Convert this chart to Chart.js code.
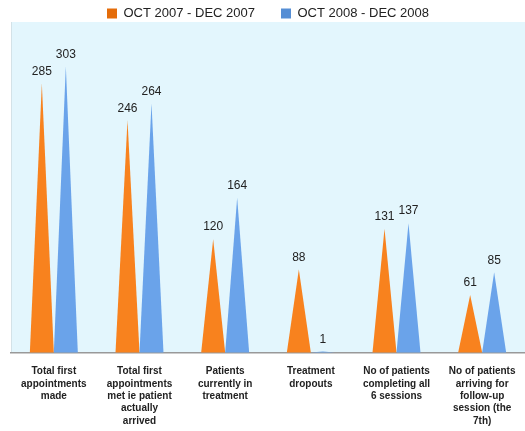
<!DOCTYPE html>
<html>
<head>
<meta charset="utf-8">
<script src="https://cdn.jsdelivr.net/npm/chart.js@4"></script>
<style>
html,body{margin:0;padding:0;background:#fff;}
#wrap{width:525px;height:431px;position:relative;}
</style>
</head>
<body>
<div id="wrap"><canvas id="chart"></canvas></div>
<script>
const categories = [
["Total first","appointments","made"],
["Total first","appointments","met ie patient","actually","arrived"],
["Patients","currently in","treatment"],
["Treatment","dropouts"],
["No of patients","completing all","6 sessions"],
["No of patients","arriving for","follow-up","session (the","7th)"]
];

const period2007 = [285, 246, 120, 88, 131, 61];
const period2008 = [303, 264, 164, 1, 137, 85];

const seriesNames = ["OCT 2007 - DEC 2007", "OCT 2008 - DEC 2008"];
const barColors = ["#F8821E", "#6AA3EA"];
const legendColors = ["#E46C0A", "#558ED5"];

// plot background + triangle bars + value labels
const conePlugin = {
id:"cones",
beforeDraw(chart){
const a = chart.chartArea;
const ctx = chart.ctx;
ctx.save();
ctx.fillStyle = "#E3F6FD";
ctx.fillRect(a.left, a.top, a.right - a.left, a.bottom - a.top);
ctx.strokeStyle = "#D3E2E8";
ctx.lineWidth = 1;
ctx.beginPath();
ctx.moveTo(a.left + 0.5, a.top);
ctx.lineTo(a.left + 0.5, a.bottom);
ctx.stroke();
ctx.restore();
},
beforeDatasetsDraw(chart){
const ctx = chart.ctx;
ctx.save();
chart.data.datasets.forEach((ds, i) => {
const meta = chart.getDatasetMeta(i);
meta.data.forEach((bar, j) => {
const p = bar.getProps(["x","y","base","width"], true);
const half = p.width / 2;
ctx.fillStyle = barColors[i];
ctx.beginPath();
ctx.moveTo(p.x - half, p.base);
ctx.lineTo(p.x, p.y);
ctx.lineTo(p.x + half, p.base);
ctx.closePath();
ctx.fill();
});
});
ctx.fillStyle = "#222";
ctx.font = "12px 'Liberation Sans', Arial, sans-serif";
ctx.textAlign = "center";
ctx.textBaseline = "bottom";
chart.data.datasets.forEach((ds, i) => {
const meta = chart.getDatasetMeta(i);
meta.data.forEach((bar, j) => {
ctx.fillText(ds.data[j], bar.x, bar.y - 6);
});
});
ctx.restore();
return false;
}
};

new Chart(document.getElementById("chart"), {
type:"bar",
data:{
labels:categories,
datasets:[
{label:seriesNames[0], data:period2007, backgroundColor:legendColors[0]},
{label:seriesNames[1], data:period2008, backgroundColor:legendColors[1]}
]
},
options:{
responsive:true,
maintainAspectRatio:false,
animation:false,
layout:{padding:{left:11, right:0, top:-19, bottom:1}},
datasets:{bar:{categoryPercentage:0.56, barPercentage:1}},
plugins:{
tooltip:{enabled:false},
legend:{
position:"top",
maxHeight:41,
labels:{
boxWidth:10,
boxHeight:10,
padding:26,
color:"#222",
font:{family:"'Liberation Sans', Arial, sans-serif", size:13}
}
}
},
scales:{
x:{
grid:{display:false, drawTicks:true, tickLength:10},
border:{color:"#999", width:1.5},
ticks:{
autoSkip:false,
maxRotation:0,
padding:3,
color:"#222",
font:{family:"'Liberation Sans', Arial, sans-serif", size:10, weight:"bold", lineHeight:1.23}
}
},
y:{
display:false,
min:0,
max:350
}
}
},
plugins:[conePlugin]
});
</script>
</body>
</html>
